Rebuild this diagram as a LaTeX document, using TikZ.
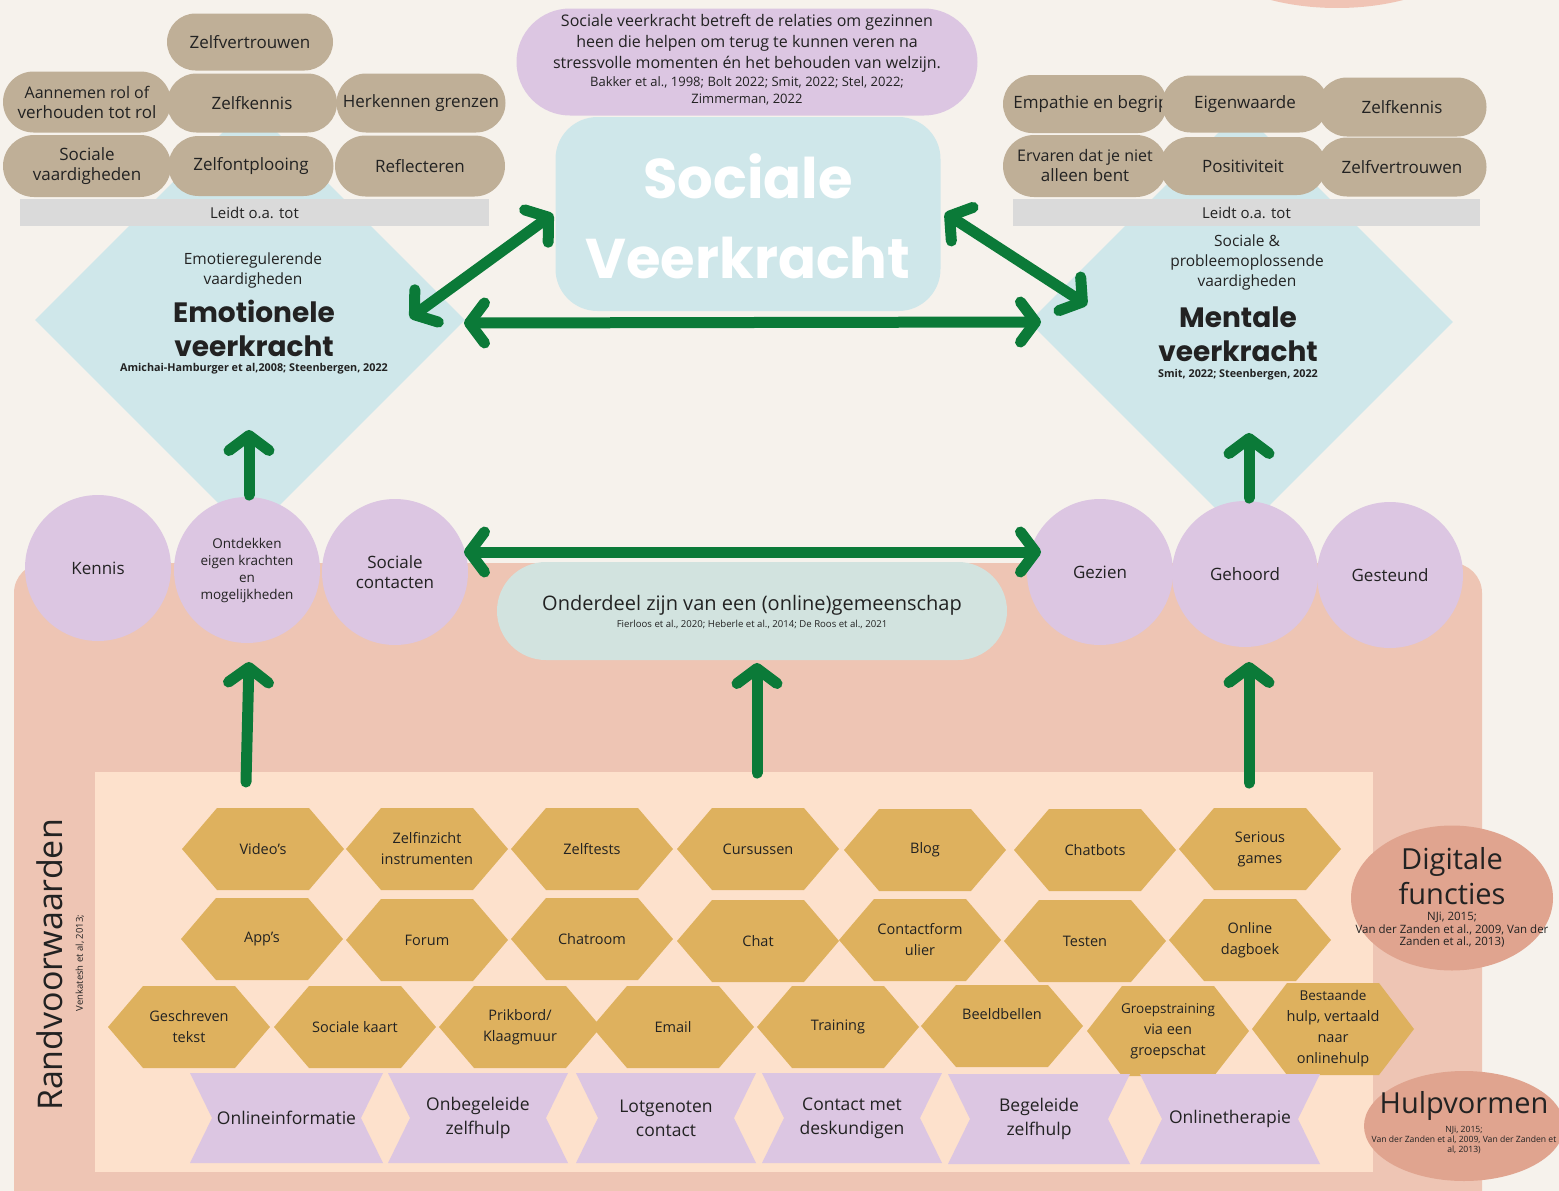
\documentclass[tikz,border=0pt]{standalone}
\usepackage{fontspec}
\setmainfont{Open Sans}
\newfontfamily\titlefont{Poppins}
\usetikzlibrary{shapes.geometric,shapes.misc,arrows.meta,calc}
\definecolor{bgc}{HTML}{F6F2EC}
\definecolor{salm}{HTML}{EEC5B4}
\definecolor{topsalm}{HTML}{F0C4B5}
\definecolor{peach}{HTML}{FDE1CC}
\definecolor{lblue}{HTML}{CFE7EA}
\definecolor{lav}{HTML}{DCC6E2}
\definecolor{tan}{HTML}{BFAF97}
\definecolor{barg}{HTML}{DADADA}
\definecolor{gold}{HTML}{DEB15E}
\definecolor{commc}{HTML}{D2E3DF}
\definecolor{digc}{HTML}{E0A48F}
\definecolor{gcol}{HTML}{0B7A38}
\definecolor{txt}{HTML}{222222}
\newcommand\myfs[2]{\fontsize{#1}{#2}\selectfont}
\tikzset{
  gtip/.tip={Straight Barb[length=15pt,width=40pt,line width=11pt,round]},
  garrow/.style={draw=gcol,line width=11pt,line cap=round},
  pillshape/.style={rounded rectangle,fill=tan,inner sep=0pt},
  pilltext/.style={text=txt,align=center,font=\myfs{17}{20}},
  circ/.style={circle,fill=lav,minimum size=146pt,inner sep=0pt,text=txt,align=center,font=\myfs{17}{20}},
  hextext/.style={text=txt,align=center,font=\myfs{14.5}{21}},
  ribtext/.style={text=txt,align=center,font=\myfs{17.5}{24}},
  plain/.style={text=txt,align=center,inner sep=0pt}
}
\newcommand\pill[6]{%
  \node[pillshape,minimum width=#4pt,minimum height=#5pt] (#1) at (#2,#3) {};
  \node[pilltext] (#1-t) at (#2,#3) {#6};}
\newcommand\hexa[5]{%
  \fill[gold] (#2,#3) ++(-81,0) -- ++(35,-#5) -- ++(92,0) -- ++(35,#5) -- ++(-35,#5) -- ++(-92,0) -- cycle;
  \node[hextext] (#1) at (#2,#3) {#4};}
\newcommand\ribbon[5]{%
  \fill[lav] (#2,#3) ++(-#4,-45) -- ++(2*#4,0) -- ++(-22,45) -- ++(22,45) -- ++(-2*#4,0) -- ++(22,-45) -- cycle;
  \node[ribtext] (#1) at (#2,#3) {#5};}
\begin{document}
\begin{tikzpicture}[x=1pt,y=-1pt]
\useasboundingbox (0,0) rectangle (1559,1191);
\fill[bgc] (0,0) rectangle (1559,1191);
\fill[topsalm] (1337,-70) ellipse [x radius=150pt, y radius=78pt];
% big salmon area
\fill[salm,rounded corners=30pt] (14,563) rectangle (1482,1240);
% diamonds
\node[diamond,fill=lblue,minimum width=430pt,minimum height=430pt,inner sep=0pt] (emo) at (250,320) {};
\node[diamond,fill=lblue,minimum width=424pt,minimum height=424pt,inner sep=0pt] (men) at (1241,322) {};
% inner peach area
\fill[peach] (95,772) rectangle (1373,1172);
% central box
\node[rectangle,rounded corners=42pt,fill=lblue,minimum width=385pt,minimum height=194pt] (sv) at (748,214) {};
\node[font=\titlefont\bfseries\myfs{56}{80},text=white,align=center] (svt) at (748,216) {Sociale\\Veerkracht};
% top definition
\node[rounded rectangle,fill=lav,minimum width=461pt,minimum height=107pt,inner sep=0pt] (def) at (747,62) {};
\node[plain,font=\myfs{16}{21}] (deft) at (747,43) {Sociale veerkracht betreft de relaties om gezinnen\\heen die helpen om terug te kunnen veren na\\stressvolle momenten én het behouden van welzijn.};
\node[plain,font=\myfs{13}{17}] (defc) at (747,91) {Bakker et al., 1998; Bolt 2022; Smit, 2022; Stel, 2022;\\Zimmerman, 2022};
% left pills
\pill{lp1}{250}{42}{166}{57}{Zelfvertrouwen}
\pill{lp2}{87}{102}{168}{61}{\myfs{16}{18}Aannemen rol of\\verhouden tot rol}
\pill{lp4}{421}{103}{169}{59}{Herkennen grenzen}
\pill{lp3}{252}{103}{170}{59}{Zelfkennis}
\pill{lp5}{87}{166}{168}{62}{Sociale\\vaardigheden}
\pill{lp7}{420}{166}{170}{61}{Reflecteren}
\pill{lp6}{251}{166}{165}{60}{Zelfontplooing}
\node[fill=barg,minimum width=469pt,minimum height=27pt,inner sep=0pt,text=txt,font=\myfs{15}{18}] (leidtL) at (254.5,212.5) {Leidt o.a. tot};
% right pills
\pill{rp1}{1085}{104}{164}{58}{}
\node[pilltext] (rp1-t) at (1091,104) {Empathie en begrip};
\pill{rp4}{1085}{166}{164}{62}{\myfs{16}{18}Ervaren dat je niet\\alleen bent}
\pill{rp2}{1245}{104}{166}{57}{Eigenwaarde}
\pill{rp5}{1243}{166}{166}{58}{Positiviteit}
\pill{rp3}{1402}{107}{169}{59}{Zelfkennis}
\pill{rp6}{1402}{167}{169}{59}{Zelfvertrouwen}
\node[fill=barg,minimum width=467pt,minimum height=27pt,inner sep=0pt,text=txt,font=\myfs{15}{18}] (leidtR) at (1246.5,212.5) {Leidt o.a. tot};
% diamond texts
\node[plain,font=\myfs{15.5}{20}] (emosub) at (253,270) {Emotieregulerende\\vaardigheden};
\node[plain,font=\titlefont\bfseries\myfs{28}{34}] (emotit) at (254,328) {Emotionele\\veerkracht};
\node[plain,font=\bfseries\myfs{10.8}{12}] (emocit) at (254,369) {Amichai-Hamburger et al,2008; Steenbergen, 2022};
\node[plain,font=\myfs{15.5}{20}] (mensub) at (1247,262) {Sociale \&\\probleemoplossende\\vaardigheden};
\node[plain,font=\titlefont\bfseries\myfs{28}{34}] (mentit) at (1238,334) {Mentale\\veerkracht};
\node[plain,font=\bfseries\myfs{10.8}{12}] (mencit) at (1238,375) {Smit, 2022; Steenbergen, 2022};
% circles
\node[circ] (kennis) at (98,568) {Kennis};
\node[circ,font=\myfs{13.5}{17}] (ontd) at (247,570) {Ontdekken\\eigen krachten\\en\\mogelijkheden};
\node[circ] (socc) at (395,572) {Sociale\\contacten};
\node[circ] (gezien) at (1100,572) {Gezien};
\node[circ] (gehoord) at (1245,574) {Gehoord};
\node[circ] (gesteund) at (1390,575) {Gesteund};
% community
\node[rounded rectangle,fill=commc,minimum width=510pt,minimum height=98pt,inner sep=0pt] (comm) at (752,611) {};
\node[plain,font=\myfs{20}{24}] (commt) at (752,605) {Onderdeel zijn van een (online)gemeenschap};
\node[plain,font=\myfs{9.6}{11}] (commc) at (752,624) {Fierloos et al., 2020; Heberle et al., 2014; De Roos et al., 2021};
% arrows
\coordinate (a1s) at (553,214); \coordinate (a1e) at (410,318);
\coordinate (a2s) at (945,213); \coordinate (a2e) at (1087,305);
\coordinate (a3s) at (464,323); \coordinate (a3e) at (1041,322);
\coordinate (a4s) at (464,552); \coordinate (a4e) at (1041,552);
\coordinate (a5s) at (249,495); \coordinate (a5e) at (249,430);
\coordinate (a6s) at (1249,498); \coordinate (a6e) at (1249,433);
\coordinate (a7s) at (246,782); \coordinate (a7e) at (249,662);
\coordinate (a8s) at (757,773); \coordinate (a8e) at (757,663);
\coordinate (a9s) at (1249,783); \coordinate (a9e) at (1249,662);
\draw[garrow,gtip-gtip] (a1s) -- (a1e);
\draw[garrow,gtip-gtip] (a2s) -- (a2e);
\draw[garrow,gtip-gtip] (a3s) -- (a3e);
\draw[garrow,gtip-gtip] (a4s) -- (a4e);
\draw[garrow,-gtip] (a5s) -- (a5e);
\draw[garrow,-gtip] (a6s) -- (a6e);
\draw[garrow,-gtip] (a7s) -- (a7e);
\draw[garrow,-gtip] (a8s) -- (a8e);
\draw[garrow,-gtip] (a9s) -- (a9e);
% hexagons row 1
\hexa{h11}{263}{849}{Video's}{41}
\hexa{h12}{427}{849}{Zelfinzicht\\instrumenten}{41}
\hexa{h13}{592}{849}{Zelftests}{41}
\hexa{h14}{758}{849}{Cursussen}{41}
\hexa{h15}{925}{850}{Blog}{41}
\hexa{h16}{1095}{850}{Chatbots}{41}
\hexa{h17}{1260}{849}{Serious\\games}{41}
% row 2
\hexa{h21}{262}{939}{App's}{41}
\hexa{h22}{427}{940}{Forum}{41}
\hexa{h23}{592}{939}{Chatroom}{41}
\hexa{h24}{758}{941}{Chat}{41}
\hexa{h25}{920}{940}{Contactform\\ulier}{41}
\hexa{h26}{1085}{941}{Testen}{41}
\hexa{h27}{1250}{940}{Online\\dagboek}{41}
% row 3
\hexa{h31}{189}{1027}{Geschreven\\tekst}{41}
\hexa{h32}{355}{1027}{Sociale kaart}{41}
\hexa{h33}{520}{1027}{Prikbord/\\Klaagmuur}{41}
\hexa{h34}{673}{1027}{Email}{41}
\hexa{h35}{838}{1027}{Training}{41}
\fill[gold] (1002,1026) ++(-81,0) -- ++(35,-41) -- ++(92,0) -- ++(35,41) -- ++(-35,41) -- ++(-92,0) -- cycle;
\node[hextext] (h36) at (1002,1014) {Beeldbellen};
\hexa{h37}{1168}{1031}{\myfs{13.5}{19}Groepstraining\\via een\\groepschat}{45}
\hexa{h38}{1333}{1029}{\myfs{13.5}{21}Bestaande\\hulp, vertaald\\naar\\onlinehulp}{46}
% ribbons
\ribbon{r1}{286.5}{1118}{96.5}{Onlineinformatie}
\ribbon{r2}{478}{1118}{90}{Onbegeleide\\zelfhulp}
\ribbon{r3}{666}{1118}{90}{Lotgenoten\\contact}
\ribbon{r4}{852}{1118}{90}{Contact met\\deskundigen}
\ribbon{r5}{1039}{1119}{91}{Begeleide\\zelfhulp}
\ribbon{r6}{1230}{1119}{90}{Onlinetherapie}
% digitale functies
\node[ellipse,fill=digc,minimum width=202pt,minimum height=145pt,inner sep=0pt] (dig) at (1452,898) {};
\node[plain,font=\myfs{29}{35}] (digt) at (1452,876) {Digitale\\functies};
\node[plain,font=\myfs{11.5}{12.5}] (digc) at (1452,930) {NJi, 2015;\\Van der Zanden et al., 2009, Van der\\Zanden et al., 2013)};
% hulpvormen
\node[ellipse,fill=digc,minimum width=200pt,minimum height=110pt,inner sep=0pt] (hulp) at (1464,1126) {};
\node[plain,font=\myfs{29}{34}] (hulpt) at (1464,1106) {Hulpvormen};
\node[plain,font=\myfs{8.6}{10}] (hulpc) at (1464,1140) {NJi, 2015;\\Van der Zanden et al, 2009, Van der Zanden et\\al, 2013)};
% randvoorwaarden
\node[plain,rotate=90,font=\myfs{34}{40}] (rand) at (50,965) {Randvoorwaarden};
\node[plain,rotate=90,font=\myfs{9.5}{11}] (randc) at (80,963) {Venkatesh et al, 2013;};
\end{tikzpicture}
\end{document}
